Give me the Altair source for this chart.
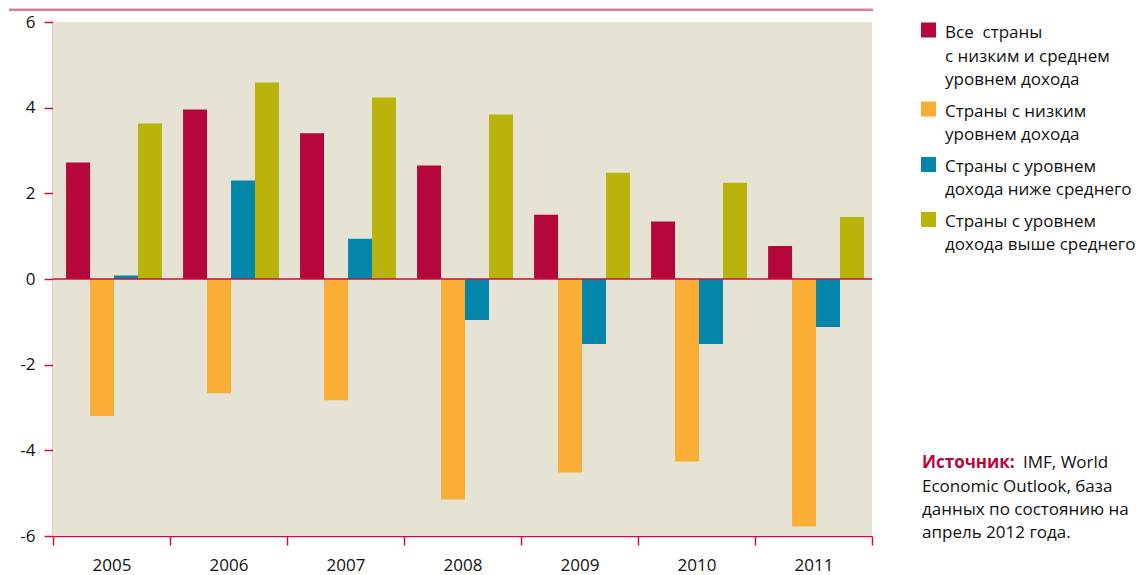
import altair as alt
import pandas as pd

years = ["2005", "2006", "2007", "2008", "2009", "2010", "2011"]
series = [
    "Все страны с низким и среднем уровнем дохода",
    "Страны с низким уровнем дохода",
    "Страны с уровнем дохода ниже среднего",
    "Страны с уровнем дохода выше среднего",
]
all_lmi = [2.72, 3.96, 3.40, 2.65, 1.50, 1.34, 0.77]
low = [-3.20, -2.67, -2.83, -5.15, -4.52, -4.26, -5.78]
lower_mid = [0.08, 2.30, 0.94, -0.96, -1.52, -1.52, -1.12]
upper_mid = [3.63, 4.59, 4.24, 3.84, 2.48, 2.25, 1.45]
colors = ["#B5073B", "#FBAE36", "#0386AA", "#B9B40B"]

legend_lines = [
    ["Все\u00a0 страны", "с низким и среднем", "уровнем дохода"],
    ["Страны с низким", "уровнем дохода"],
    ["Страны с уровнем", "дохода ниже среднего"],
    ["Страны с уровнем", "дохода выше среднего"],
]
source_head = "Источник:"
source_first = "IMF, World"
source_rest = ["Economic Outlook, база", "данных по состоянию на", "апрель 2012 года."]

rows = []
for s, vals in zip(series, [all_lmi, low, lower_mid, upper_mid]):
    for y, v in zip(years, vals):
        rows.append({"year": y, "series": s, "value": v})
df = pd.DataFrame(rows)

FONT = "Open Sans"
CRIMSON = "#C8103E"
W, H = 819, 514
one = pd.DataFrame({"a": [0]})

bg = alt.Chart(one).mark_rect(color="#E6E3D4").encode(
    x=alt.value(0), x2=alt.value(W), y=alt.value(0), y2=alt.value(H)
)

bars = alt.Chart(df).mark_bar().encode(
    x=alt.X(
        "year:N",
        sort=years,
        scale=alt.Scale(paddingInner=0, paddingOuter=0),
        axis=alt.Axis(
            title=None, labelAngle=0, tickBand="extent", domainColor=CRIMSON,
            tickColor=CRIMSON, tickSize=9, domainWidth=1.5, tickWidth=1.5,
            labelFont=FONT, labelFontSize=17, labelColor="#111",
            labelPadding=12, grid=False,
        ),
    ),
    xOffset=alt.XOffset(
        "series:N", sort=series,
        scale=alt.Scale(paddingInner=0, paddingOuter=0.44, align=0.62),
    ),
    y=alt.Y(
        "value:Q",
        scale=alt.Scale(domain=[-6, 6], nice=False),
        axis=alt.Axis(
            title=None, values=[-6, -4, -2, 0, 2, 4, 6], grid=False,
            domainColor=CRIMSON, tickColor=CRIMSON, tickSize=9,
            domainWidth=1.5, tickWidth=1.5, labelFont=FONT, labelFontSize=17,
            labelColor="#111", labelPadding=9, labelExpr="'' + datum.value",
        ),
    ),
    color=alt.Color("series:N", sort=series,
                    scale=alt.Scale(domain=series, range=colors), legend=None),
)

zero = alt.Chart(pd.DataFrame({"z": [0]})).mark_rule(
    color=CRIMSON, strokeWidth=1.5
).encode(y="z:Q")

top_line = alt.Chart(one).mark_rect(color="#D47E9A", clip=False).encode(
    x=alt.value(-44), x2=alt.value(820), y=alt.value(-13.5), y2=alt.value(-11)
)

layers = [bg, bars, zero, top_line]

LX = 868
TX = 892
FS = 17
LH = 23.4
sq_y = [8, 87, 142.5, 197.5]
txt_y = [16.3, 94.7, 149.7, 204.7]
for i, lines in enumerate(legend_lines):
    layers.append(
        alt.Chart(one).mark_square(
            x=LX + 7.5, y=sq_y[i], size=225, color=colors[i], opacity=1, clip=False
        ).encode(opacity=alt.value(1))
    )
    layers.append(
        alt.Chart(one).mark_text(
            text=lines, x=TX, y=txt_y[i], align="left", baseline="alphabetic",
            lineHeight=LH, font=FONT, fontSize=FS, color="#111", clip=False
        ).encode(opacity=alt.value(1))
    )

SX = 869
SY = 446.3
layers.append(
    alt.Chart(one).mark_text(
        text=source_head, x=SX, y=SY, align="left", baseline="alphabetic",
        font=FONT, fontSize=FS, fontWeight="bold", color="#B5073B", clip=False
    ).encode(opacity=alt.value(1))
)
layers.append(
    alt.Chart(one).mark_text(
        text=source_first, x=970, y=SY, align="left", baseline="alphabetic",
        font=FONT, fontSize=FS, color="#111", clip=False
    ).encode(opacity=alt.value(1))
)
layers.append(
    alt.Chart(one).mark_text(
        text=source_rest, x=SX, y=SY + LH, align="left", baseline="alphabetic",
        lineHeight=LH, font=FONT, fontSize=FS, color="#111", clip=False
    ).encode(opacity=alt.value(1))
)

chart = alt.layer(*layers).properties(
    width=W, height=H,
    autosize=alt.AutoSizeParams(type="none"),
    padding={"left": 45, "top": 14, "right": 267, "bottom": 40},
    background="white",
).configure_view(strokeWidth=0)

chart.save("out.html", embed_options={"renderer": "svg", "actions": False})
